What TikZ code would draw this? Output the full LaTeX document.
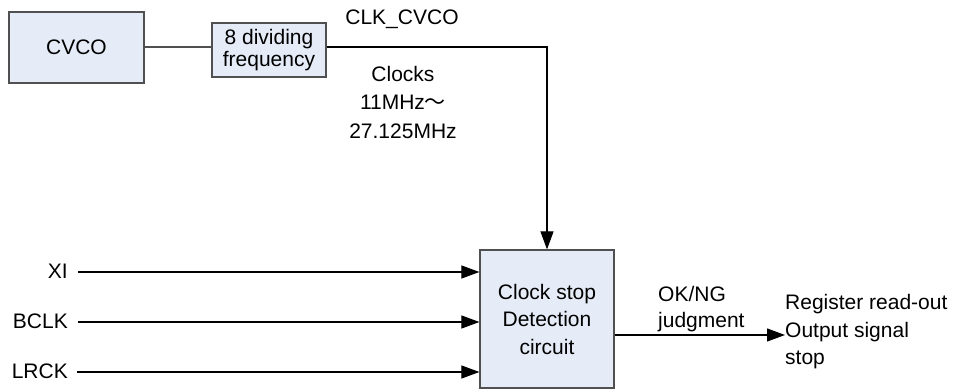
\documentclass[tikz,border=0pt]{standalone}
\usepackage{fontspec}
\setmainfont{Liberation Sans}
\newfontfamily\cjkfont{Noto Sans CJK JP}
\usetikzlibrary{arrows.meta}
\definecolor{boxfill}{HTML}{E6ECF7}
\definecolor{boxline}{HTML}{505050}
\begin{document}
\begin{tikzpicture}[x=1pt,y=-1pt,
  blk/.style={draw=boxline,fill=boxfill,line width=1.2pt,inner sep=0pt,align=center,font=\fontsize{21}{27.5}\selectfont},
  lbl/.style={inner sep=0pt,font=\fontsize{21}{27.5}\selectfont},
  wire/.style={draw=boxline,line width=1.2pt},
  arr/.style={draw=black,line width=1.1pt,-{Triangle[length=18pt,width=13pt]}}]
\useasboundingbox (0,0) rectangle (961,390);
\node[blk,minimum width=135pt,minimum height=71pt] (cvco) at (76.5,47.5) {CVCO};
\node[blk,minimum width=114pt,minimum height=54pt,font=\fontsize{21}{22}\selectfont] (div) at (269,50) {8 dividing\\frequency};
\node[blk,minimum width=134pt,minimum height=138pt] (det) at (547,319) {Clock stop\\Detection\\circuit};
\coordinate (corner) at (547,47);
\draw[wire] (cvco.east |- 0,47) -- (div.west |- 0,47);
\draw[arr] (div.east |- 0,47) -- (corner) -- (det.north);
\node[lbl] (clk) at (402,19) {CLK\_CVCO};
\node[lbl,align=center,font=\fontsize{21}{28.5}\selectfont] (clocks) at (403,102) {Clocks\\11MHz{\cjkfont\char"FF5E}\\27.125MHz};
\node[lbl,anchor=east] (xi) at (68,271) {XI};
\node[lbl,anchor=east] (bclk) at (68,321.5) {BCLK};
\node[lbl,anchor=east] (lrck) at (68,371.5) {LRCK};
\draw[arr] (78,272) -- (det.west |- 0,272);
\draw[arr] (78,322) -- (det.west |- 0,322);
\draw[arr] (77,372) -- (det.west |- 0,372);
\node[lbl,align=left,anchor=west,font=\fontsize{21}{26}\selectfont] (ok) at (658,308.7) {OK/NG\\judgment};
\coordinate (outend) at (785,335);
\draw[arr] (det.east |- 0,335) -- (outend);
\node[lbl,align=left,anchor=west] (reg) at (785,332) {Register read-out\\Output signal\\stop};
\end{tikzpicture}
\end{document}
